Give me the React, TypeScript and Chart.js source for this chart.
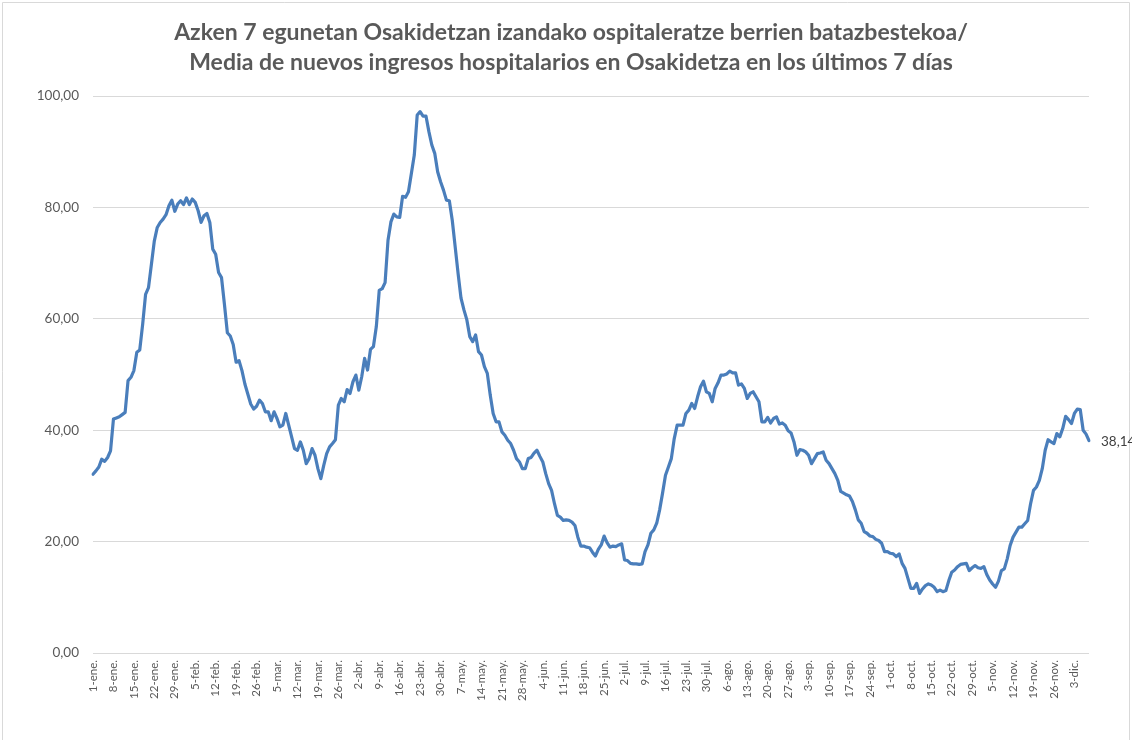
import React, { useEffect, useRef } from "react";
import { Chart, registerables } from "chart.js";

Chart.register(...registerables);

const TITLE_LINES = [
  "Azken 7 egunetan Osakidetzan izandako ospitaleratze berrien batazbestekoa/",
  "Media de nuevos ingresos hospitalarios en Osakidetza en los últimos 7 días",
];

const MONTHS = ["ene", "feb", "mar", "abr", "may", "jun", "jul", "ago", "sep", "oct", "nov", "dic"];
const MONTH_DAYS = [31, 28, 31, 30, 31, 30, 31, 31, 30, 31, 30, 31];
const TICK_EVERY = 7;

const Y_TICKS = [0, 20, 40, 60, 80, 100];

// 7-day average of new hospital admissions, 1-ene .. 8-dic
const VALUES_JAN_FEB = [
  32.1, 32.7, 33.4, 34.8, 34.4, 35.1, 36.3, 42.0, 42.2, 42.4, 42.8, 43.2, 48.9, 49.5, 50.7, 54.0,
  54.4, 59.0, 64.4, 65.6, 69.8, 74.0, 76.4, 77.3, 77.9, 78.7, 80.3, 81.3, 79.3, 80.6, 81.2, 80.5,
  81.7, 80.5, 81.5, 80.9, 79.4, 77.3, 78.5, 78.9, 77.3, 72.5, 71.6, 68.3, 67.4, 62.6, 57.5, 56.9,
  55.4, 52.2, 52.5, 50.7, 48.3, 46.5, 44.7, 43.8, 44.3, 45.4, 44.8, 43.3,
];
const VALUES_MAR_APR = [
  43.3, 41.7, 43.3, 42.1, 40.6, 40.9, 43.0, 40.9, 38.8, 36.7, 36.4, 37.9, 36.4, 34.0, 34.9, 36.7,
  35.5, 33.1, 31.3, 33.7, 35.8, 37.0, 37.6, 38.3, 44.5, 45.7, 45.1, 47.3, 46.6, 48.7, 49.9, 47.2,
  49.6, 52.9, 50.8, 54.5, 55.0, 58.6, 65.1, 65.4, 66.5, 74.1, 77.4, 78.8, 78.3, 78.2, 82.0, 81.8,
  82.8, 86.1, 89.4, 96.6, 97.2, 96.4, 96.4, 93.6, 91.2, 89.7,
];
const VALUES_MAY_JUN = [
  86.4, 84.6, 83.1, 81.3, 81.2, 77.7, 72.9, 68.1, 63.7, 61.6, 59.8, 56.8, 55.9, 57.1, 54.1, 53.5,
  51.4, 50.2, 46.3, 43.0, 41.5, 41.5, 39.7, 39.1, 38.2, 37.6, 36.4, 34.9, 34.3, 33.1, 33.1, 34.9,
  35.1, 35.9, 36.4, 35.3, 34.3, 32.2, 30.4, 29.2, 26.8, 24.7, 24.4, 23.8, 23.9, 23.8, 23.5, 22.9,
  20.8, 19.2, 19.2, 19.0, 18.9, 18.1, 17.4, 18.6, 19.4, 21.0,
];
const VALUES_JUL_AUG = [
  19.8, 19.0, 19.2, 19.1, 19.4, 19.6, 16.7, 16.6, 16.1, 16.0, 16.0, 15.9, 16.0, 18.2, 19.4, 21.5,
  22.1, 23.3, 25.7, 28.7, 31.9, 33.4, 34.9, 38.5, 40.9, 40.9, 40.9, 43.0, 43.6, 44.8, 43.9, 46.0,
  47.8, 48.8, 46.9, 46.6, 45.1, 47.5, 48.5, 49.9, 49.9, 50.1, 50.6, 50.3, 50.3, 48.1, 48.3, 47.5,
  45.7, 46.6, 46.9, 46.0, 45.1, 41.5, 41.5, 42.3, 41.3, 42.1,
];
const VALUES_SEP_OCT = [
  42.4, 41.1, 41.3, 40.9, 39.9, 39.5, 37.9, 35.5, 36.5, 36.4, 36.1, 35.5, 34.0, 34.9, 35.8, 35.9,
  36.1, 34.6, 34.0, 33.1, 32.2, 31.0, 29.0, 28.7, 28.4, 28.2, 27.2, 25.7, 23.9, 23.3, 21.8, 21.5,
  21.0, 20.9, 20.4, 20.2, 19.7, 18.2, 18.2, 17.9, 17.8, 17.3, 17.8, 16.1, 15.2, 13.4, 11.6, 11.6,
  12.5, 10.7, 11.5, 12.1, 12.4, 12.2, 11.8, 11.0, 11.3, 11.0, 11.2,
];
const VALUES_NOV_DEC = [
  13.0, 14.5, 14.9, 15.5, 15.9, 16.0, 16.1, 14.8, 15.3, 15.7, 15.3, 15.2, 15.5, 14.1, 13.1, 12.4,
  11.8, 12.9, 14.8, 15.1, 16.9, 19.3, 20.8, 21.7, 22.6, 22.6, 23.2, 23.8, 26.8, 29.2, 29.8, 31.0,
  33.1, 36.4, 38.3, 37.9, 37.6, 39.4, 38.8, 40.3, 42.5, 41.9, 41.2, 43.0, 43.8, 43.7, 40.0, 39.3,
  38.14,
];

const VALUES = [
  ...VALUES_JAN_FEB,
  ...VALUES_MAR_APR,
  ...VALUES_MAY_JUN,
  ...VALUES_JUL_AUG,
  ...VALUES_SEP_OCT,
  ...VALUES_NOV_DEC,
];

function buildLabels(count: number): string[] {
  const out: string[] = [];
  let m = 0;
  let d = 1;
  while (out.length < count && m < 12) {
    out.push(`${d}-${MONTHS[m]}.`);
    d++;
    if (d > MONTH_DAYS[m]) {
      d = 1;
      m++;
    }
  }
  return out;
}

const CATEGORIES = buildLabels(VALUES.length);

const fmt = (v: number) => v.toFixed(2).replace(".", ",");

const W = 1132;
const H = 740;

export default function App() {
  const ref = useRef<HTMLCanvasElement | null>(null);

  useEffect(() => {
    if (!ref.current) return;

    const frame = {
      id: "frame",
      beforeDraw(chart: any) {
        const { ctx } = chart;
        ctx.save();
        ctx.fillStyle = "#ffffff";
        ctx.fillRect(0, 0, W, H);
        ctx.strokeStyle = "#d9d9d9";
        ctx.lineWidth = 1;
        ctx.beginPath();
        ctx.moveTo(2.5, H);
        ctx.lineTo(2.5, 2.5);
        ctx.lineTo(W - 2.5, 2.5);
        ctx.lineTo(W - 2.5, H);
        ctx.stroke();
        ctx.fillStyle = "#595959";
        ctx.font = "bold 23px Lato";
        ctx.textAlign = "center";
        ctx.textBaseline = "alphabetic";
        ctx.fillText(TITLE_LINES[0], 571, 40);
        ctx.fillText(TITLE_LINES[1], 571, 70);
        ctx.restore();
      },
      afterDatasetsDraw(chart: any) {
        const meta = chart.getDatasetMeta(0);
        const last = meta.data[meta.data.length - 1];
        if (!last) return;
        const { ctx } = chart;
        ctx.save();
        ctx.fillStyle = "#404040";
        ctx.font = "13.5px Lato";
        ctx.textAlign = "left";
        ctx.textBaseline = "middle";
        ctx.fillText(fmt(VALUES[VALUES.length - 1]), last.x + 12, last.y + 1);
        ctx.restore();
      },
    };

    const chart = new Chart(ref.current, {
      type: "line",
      data: {
        labels: CATEGORIES,
        datasets: [
          {
            data: VALUES,
            borderColor: "#4A7EBB",
            backgroundColor: "#4A7EBB",
            borderWidth: 3.2,
            pointRadius: 0,
            tension: 0,
            borderJoinStyle: "round",
            borderCapStyle: "round",
            fill: false,
          },
        ],
      },
      options: {
        responsive: false,
        animation: false,
        devicePixelRatio: 1,
        layout: { padding: { left: 0, right: 43, top: 96, bottom: 0 } },
        plugins: {
          legend: { display: false },
          title: { display: false },
          tooltip: { enabled: false },
        },
        scales: {
          x: {
            type: "category",
            offset: false,
            grid: { display: false, drawTicks: false },
            border: { display: false },
            afterFit(scale: any) {
              scale.height = 87;
            },
            ticks: {
              autoSkip: false,
              minRotation: 90,
              maxRotation: 90,
              padding: 7,
              color: "#595959",
              font: { family: "Lato", size: 11.5 },
              callback: (_v: any, i: number) => (i % TICK_EVERY === 0 ? CATEGORIES[i] : ""),
            },
          },
          y: {
            min: 0,
            max: 100,
            afterFit(scale: any) {
              scale.width = 93;
            },
            afterBuildTicks(scale: any) {
              scale.ticks = Y_TICKS.map((v) => ({ value: v }));
            },
            grid: { color: "#d9d9d9", lineWidth: 1, drawTicks: false },
            border: { display: false },
            ticks: {
              padding: 14,
              color: "#595959",
              font: { family: "Lato", size: 13.5 },
              callback: (v: any) => fmt(Number(v)),
            },
          },
        },
      },
      plugins: [frame],
    });

    return () => chart.destroy();
  }, []);

  return (
    <div style={{ position: "absolute", left: 0, top: 0, width: W, height: H, background: "#fff" }}>
      <canvas ref={ref} width={W} height={H} style={{ display: "block", width: W, height: H }} />
    </div>
  );
}
